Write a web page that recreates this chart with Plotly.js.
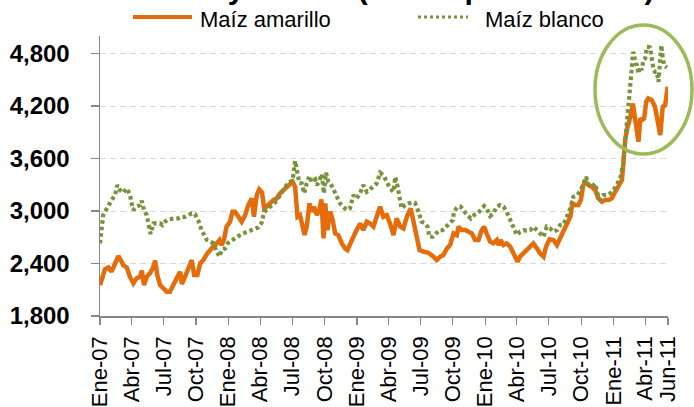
<!DOCTYPE html>
<html>
<head>
<meta charset="utf-8">
<script src="https://cdn.plot.ly/plotly-3.0.1.min.js"></script>
<style>html,body{margin:0;padding:0;background:#fff;}#chart{width:694px;height:407px;}</style>
</head>
<body>
<div id="chart"></div>
<script>
// Observation dates, as days since 2007-01-01
const amarilloDias = [0,5,14,24,33,43,52,59,66,76,85,95,104,114,119,125,133,142,150,157,163,171,180,190,199,209,218,228,233,242,251,261,268,277,285,294,304,313,323,332,340,346,353,360,370,377,384,394,403,413,422,432,438,446,453,461,467,474,484,493,503,512,522,531,541,548,555,562,569,577,582,588,596,602,609,617,624,630,636,641,647,655,662,669,678,688,697,704,711,721,730,740,749,759,768,778,787,797,806,816,825,835,844,854,863,873,884,894,901,909,920,934,949,958,968,977,987,996,1006,1015,1020,1029,1039,1048,1058,1067,1077,1086,1093,1100,1110,1119,1129,1134,1140,1148,1157,1167,1176,1188,1195,1205,1214,1224,1233,1243,1252,1262,1269,1279,1290,1300,1309,1319,1328,1338,1344,1352,1361,1368,1375,1382,1390,1399,1409,1418,1428,1437,1447,1456,1466,1475,1485,1489,1494,1501,1508,1516,1521,1525,1532,1537,1542,1548,1554,1560,1570,1579,1589,1594,1601,1608,1615];
const amarilloPrecio = [2154,2211,2333,2356,2306,2400,2485,2440,2382,2356,2249,2173,2230,2250,2318,2154,2249,2287,2344,2432,2268,2154,2116,2078,2078,2173,2230,2306,2166,2249,2344,2440,2268,2268,2401,2440,2508,2561,2600,2630,2668,2611,2676,2820,2877,2992,2992,2934,2877,2953,3068,3144,2934,3182,3247,3212,3030,3049,3094,3125,3144,3201,3239,3277,3308,3334,3277,2934,2953,2839,2725,2820,3087,2992,3049,2953,3011,3132,2687,3087,2782,2992,2896,2744,2725,2630,2573,2554,2630,2706,2782,2858,2782,2877,2858,2820,2934,3049,2934,2953,2858,2725,2915,2820,2801,2934,3030,2820,2706,2554,2535,2523,2478,2440,2478,2497,2573,2611,2744,2725,2820,2782,2782,2763,2744,2668,2668,2782,2820,2744,2649,2630,2668,2611,2668,2611,2630,2592,2516,2421,2478,2516,2554,2592,2630,2573,2516,2478,2592,2676,2668,2611,2687,2744,2820,2934,3087,3068,3068,3125,3296,3334,3296,3277,3239,3144,3106,3125,3125,3144,3220,3296,3353,3544,3810,3962,4058,4229,4077,3924,3791,4058,4039,4058,4248,4286,4267,4191,3924,3867,4191,4210,4420];

const blancoDias = [0,3,5,9,17,24,33,43,49,57,66,76,85,90,95,104,114,119,125,133,140,144,152,161,171,178,185,194,204,213,223,232,242,251,261,270,280,289,296,304,313,323,330,340,346,356,365,375,384,394,403,413,422,432,441,451,460,467,474,484,493,503,512,522,531,541,548,555,560,567,574,581,588,596,602,612,617,624,631,637,643,650,656,664,674,683,692,702,711,721,730,740,749,759,768,778,787,797,806,816,825,835,840,846,852,858,868,877,887,896,906,915,925,932,937,947,956,966,975,985,994,1004,1007,1017,1026,1036,1045,1055,1064,1074,1083,1093,1100,1110,1119,1129,1138,1148,1157,1167,1176,1186,1195,1205,1214,1224,1233,1243,1252,1262,1271,1281,1290,1300,1309,1319,1328,1338,1347,1358,1368,1377,1383,1390,1399,1409,1415,1423,1432,1442,1451,1461,1470,1480,1485,1489,1494,1497,1501,1505,1508,1511,1514,1517,1520,1523,1528,1532,1537,1541,1546,1551,1556,1560,1565,1570,1575,1579,1584,1589,1594,1597,1600,1605,1610,1613];
const blancoPrecio = [2630,2744,2858,2953,3011,3068,3125,3182,3296,3239,3209,3258,3193,3087,3011,3049,3068,3117,3011,2953,2839,2737,2858,2858,2858,2839,2877,2904,2915,2915,2915,2934,2934,2953,2972,2965,2889,2782,2725,2668,2649,2630,2554,2478,2554,2573,2637,2668,2687,2714,2737,2752,2763,2782,2790,2813,2866,2992,3011,3049,3079,3117,3182,3247,3296,3334,3346,3574,3460,3323,3315,3201,3315,3399,3334,3361,3296,3346,3422,3201,3437,3334,3315,3239,3163,3087,3049,3011,3030,3182,3144,3201,3296,3220,3247,3277,3315,3437,3410,3334,3258,3220,3391,3296,3163,3030,3068,3087,3094,3094,2992,2877,2858,2820,2706,2706,2744,2782,2782,2820,2858,2896,2992,3049,3049,2992,2953,2915,2953,2972,3011,3056,3030,2942,2972,3049,3068,3049,2992,2896,2839,2725,2763,2782,2775,2782,2820,2782,2744,2706,2820,2801,2763,2782,2839,2847,2934,3030,3163,3182,3239,3334,3391,3296,3277,3315,3201,3125,3182,3182,3201,3239,3315,3372,3467,3544,3772,3962,4115,4267,4457,4572,4686,4819,4781,4686,4667,4572,4648,4610,4724,4743,4876,4876,4869,4743,4610,4591,4591,4476,4724,4895,4781,4667,4648,4640];

const tickFechas = ['2007-01-01','2007-04-01','2007-07-01','2007-10-01','2008-01-01','2008-04-01','2008-07-01','2008-10-01','2009-01-01','2009-04-01','2009-07-01','2009-10-01','2010-01-01','2010-04-01','2010-07-01','2010-10-01','2011-01-01','2011-04-01','2011-06-05'];
const tickEtiquetas = ['Ene-07','Abr-07','Jul-07','Oct-07','Ene-08','Abr-08','Jul-08','Oct-08','Ene-09','Abr-09','Jul-09','Oct-09','Ene-10','Abr-10','Jul-10','Oct-10','Ene-11','Abr-11','Jun-11'];
const yTicks = [1800,2400,3000,3600,4200,4800];
const serieNombres = ['Maíz amarillo','Maíz blanco'];
const tituloTexto = 'Maíz amarillo y blanco (Pesos por tonelada)';

function aFecha(d){ return new Date(Date.UTC(2007,0,1) + d*86400000).toISOString().slice(0,10); }

const ORANGE = '#E46C0A', GREEN = '#77933C';
const FONT = 'Liberation Sans, Arial, sans-serif';

const traces = [
  {x: amarilloDias.map(aFecha), y: amarilloPrecio, type:'scatter', mode:'lines', name: serieNombres[0],
   line:{color:ORANGE, width:4.5}, showlegend:false},
  {x: blancoDias.map(aFecha), y: blancoPrecio, type:'scatter', mode:'lines', name: serieNombres[1],
   line:{color:GREEN, width:4.2, dash:'3.6px,3px'}, showlegend:false}
];

// plot area in pixels: x 100..668, y 36..316
const L=100, R=668, T=36, B=316;
const px = v => (v-L)/(R-L);
const py = v => (B-v)/(B-T);

const layout = {
  width:694, height:407,
  margin:{l:L, r:694-R, t:T, b:407-B},
  paper_bgcolor:'#fff', plot_bgcolor:'#fff',
  font:{family:FONT, color:'#000'},
  xaxis:{type:'date', range:['2007-01-01','2011-06-05'], tickvals:tickFechas, ticktext:tickEtiquetas,
    tickangle:-90, tickfont:{family:FONT, size:22, color:'#000'}, showgrid:false,
    showline:true, linecolor:'#868686', linewidth:1.5, ticks:'outside', ticklen:7, tickcolor:'#868686', tickwidth:1.2,
    ticklabelstandoff:3,
    zeroline:false, fixedrange:true},
  yaxis:{range:[1800,5000], tickvals:yTicks, tickformat:',d',
    tickfont:{family:FONT, size:24, weight:'bold', color:'#000'},
    showline:true, linecolor:'#868686', linewidth:1.5, ticks:'outside', ticklen:8, tickcolor:'#868686', tickwidth:1.2,
    ticklabelstandoff:16,
    showgrid:true, gridcolor:'#D9D9D9', gridwidth:1, griddash:'6px,4px', zeroline:false, fixedrange:true},
  shapes:[
    {type:'line', xref:'paper', yref:'paper', x0:px(133), x1:px(192), y0:py(17), y1:py(17), line:{color:ORANGE, width:4}},
    {type:'line', xref:'paper', yref:'paper', x0:px(418), x1:px(468), y0:py(17), y1:py(17), line:{color:GREEN, width:3, dash:'3px,3px'}},
    {type:'circle', xref:'paper', yref:'paper', x0:px(595), x1:px(692), y0:py(154), y1:py(25), line:{color:'#9BBB59', width:3.5}, fillcolor:'rgba(0,0,0,0)'}
  ],
  annotations:[
    {text:serieNombres[0], xref:'paper', yref:'paper', x:px(198), y:py(20), xanchor:'left', yanchor:'middle', showarrow:false,
     font:{family:FONT, size:22, color:'#000'}},
    {text:serieNombres[1], xref:'paper', yref:'paper', x:px(483), y:py(20), xanchor:'left', yanchor:'middle', showarrow:false,
     font:{family:FONT, size:22, color:'#000'}},
    {text:tituloTexto, xref:'paper', yref:'paper', x:px(29), y:py(-11), xanchor:'left', yanchor:'middle', showarrow:false,
     font:{family:FONT, size:30, weight:'bold', color:'#000'}}
  ]
};

Plotly.newPlot('chart', traces, layout, {staticPlot:true, displayModeBar:false});
</script>
</body>
</html>
